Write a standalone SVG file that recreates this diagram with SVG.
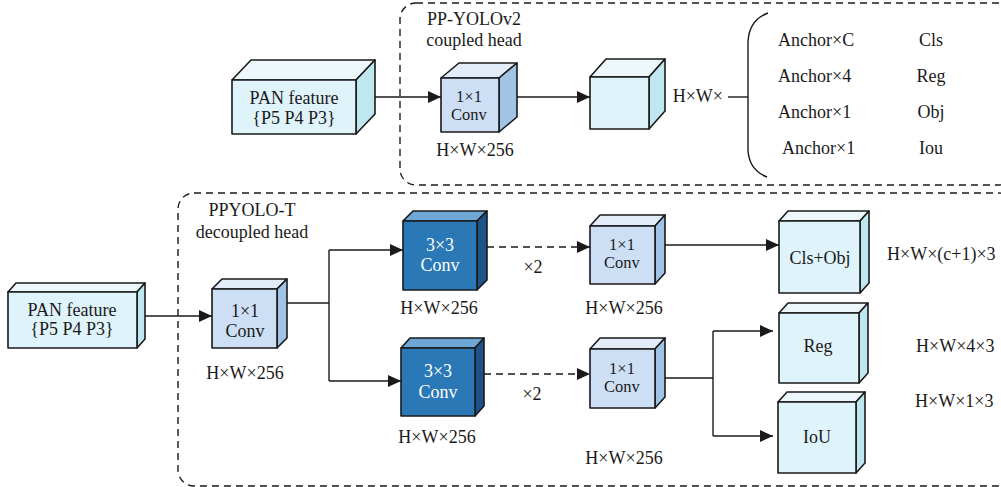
<svg xmlns="http://www.w3.org/2000/svg" width="1001" height="487" viewBox="0 0 1001 487" font-family="'Liberation Serif', 'DejaVu Serif', 'Times New Roman', Times, serif">
<style>
text{font-family:'Liberation Serif','DejaVu Serif','Times New Roman',Times,serif;font-size:18px;fill:#1a1a1a}
.c{text-anchor:middle}
.s{font-size:16.5px}
.w{fill:#ffffff}
.e{stroke:#1a1a1a;stroke-width:1.6;stroke-linejoin:round}
.lf{fill:#dff3fa}.lt{fill:#ecf8fc}.ls{fill:#bfe7f0}
.mf{fill:#cddff5}.mt{fill:#e3edfa}.ms{fill:#a0c3e6}
.df{fill:#2a78b5}.dt{fill:#6ea7d6}.ds{fill:#1c5489}
.grp{fill:none;stroke:#1a1a1a;stroke-width:1.4;stroke-dasharray:7 5}
.ln{fill:none;stroke:#1a1a1a;stroke-width:1.4}
.dl{fill:none;stroke:#1a1a1a;stroke-width:1.4;stroke-dasharray:7 5}
</style>
<defs>
<marker id="ah" markerUnits="userSpaceOnUse" markerWidth="14" markerHeight="12" refX="13" refY="6" orient="auto">
<path d="M0,0 L13,6 L0,12 Z" fill="#1a1a1a"/>
</marker>
</defs>

<g id="groups">
<rect class="grp" x="400" y="3" width="615" height="182" rx="16"/>
<rect class="grp" x="178" y="193" width="837" height="293" rx="16"/>
<text class="c" x="474" y="25">PP-YOLOv2</text>
<text class="c" x="474" y="46">coupled head</text>
<text class="c" x="252" y="216">PPYOLO-T</text>
<text class="c" x="252" y="238">decoupled head</text>
</g>

<g id="connectors">
<line class="ln" x1="356" y1="97" x2="441" y2="97" marker-end="url(#ah)"/>
<line class="ln" x1="517" y1="97" x2="590" y2="97" marker-end="url(#ah)"/>
<line class="ln" x1="728" y1="97" x2="748" y2="97"/>
<path class="ln" d="M768,13 Q749,20 748,42 L748,150 Q749,170 767,177"/>
<line class="ln" x1="137" y1="316" x2="212" y2="316" marker-end="url(#ah)"/>
<polyline class="ln" points="287,303 329,303"/>
<line class="ln" x1="329" y1="250" x2="329" y2="381"/>
<line class="ln" x1="329" y1="250" x2="403" y2="250" marker-end="url(#ah)"/>
<line class="ln" x1="329" y1="381" x2="401" y2="381" marker-end="url(#ah)"/>
<line class="dl" x1="487" y1="247" x2="590" y2="247" marker-end="url(#ah)"/>
<line class="dl" x1="484" y1="374" x2="590" y2="374" marker-end="url(#ah)"/>
<line class="ln" x1="665" y1="245" x2="779" y2="245" marker-end="url(#ah)"/>
<line class="ln" x1="665" y1="378" x2="713" y2="378"/>
<line class="ln" x1="713" y1="331" x2="713" y2="436"/>
<line class="ln" x1="713" y1="331" x2="773" y2="331" marker-end="url(#ah)"/>
<line class="ln" x1="713" y1="436" x2="773" y2="436" marker-end="url(#ah)"/>
<text class="c" x="533" y="273">×2</text>
<text class="c" x="532" y="400">×2</text>
</g>

<g id="pan-top">
<polygon class="e lt" points="232,80 251,60 375,60 356,80"/>
<polygon class="e ls" points="356,80 375,60 375,114 356,134"/>
<rect class="e lf" x="232" y="80" width="124" height="54"/>
<text class="c" x="294" y="104">PAN feature</text>
<text class="c" x="294" y="124">{P5 P4 P3}</text>
</g>

<g id="conv-top">
<polygon class="e mt" points="441,78 459,63 517,63 499,78"/>
<polygon class="e ms" points="499,78 517,63 517,117 499,132"/>
<rect class="e mf" x="441" y="78" width="58" height="54"/>
<text class="c s" x="469" y="102">1×1</text>
<text class="c s" x="469" y="120">Conv</text>
<text class="c" x="475" y="156">H×W×256</text>
</g>

<g id="out-top">
<polygon class="e lt" points="590,77 606,59 665,59 649,77"/>
<polygon class="e ls" points="649,77 665,59 665,111 649,129"/>
<rect class="e lf" x="590" y="77" width="59" height="52"/>
<text x="723" y="102" text-anchor="end">H×W×</text>
</g>

<g id="outputs-top">
<text x="778" y="46">Anchor×C</text>
<text x="778" y="82">Anchor×4</text>
<text x="778" y="118">Anchor×1</text>
<text x="782" y="154">Anchor×1</text>
<text class="c" x="931" y="46">Cls</text>
<text class="c" x="931" y="82">Reg</text>
<text class="c" x="931" y="118">Obj</text>
<text class="c" x="931" y="154">Iou</text>
</g>

<g id="pan-bottom">
<polygon class="e lt" points="8,292 16,283 145,283 137,292"/>
<polygon class="e ls" points="137,292 145,283 145,339 137,348"/>
<rect class="e lf" x="8" y="292" width="129" height="56"/>
<text class="c" x="72" y="316">PAN feature</text>
<text class="c" x="72" y="335">{P5 P4 P3}</text>
</g>

<g id="conv-bottom">
<polygon class="e mt" points="212,289 222,279 287,279 277,289"/>
<polygon class="e ms" points="277,289 287,279 287,338 277,348"/>
<rect class="e mf" x="212" y="289" width="65" height="59"/>
<text class="c" x="245" y="317">1×1</text>
<text class="c" x="245" y="337">Conv</text>
<text class="c" x="245" y="379">H×W×256</text>
</g>

<g id="conv3-top">
<polygon class="e dt" points="403,221 413,211 487,211 477,221"/>
<polygon class="e ds" points="477,221 487,211 487,280 477,290"/>
<rect class="e df" x="403" y="221" width="74" height="69"/>
<text class="c w" x="440" y="251">3×3</text>
<text class="c w" x="440" y="271">Conv</text>
<text class="c" x="439" y="314">H×W×256</text>
</g>

<g id="conv3-bottom">
<polygon class="e dt" points="401,348 410,338 484,338 475,348"/>
<polygon class="e ds" points="475,348 484,338 484,406 475,416"/>
<rect class="e df" x="401" y="348" width="74" height="68"/>
<text class="c w" x="438" y="377">3×3</text>
<text class="c w" x="438" y="398">Conv</text>
<text class="c" x="437" y="443">H×W×256</text>
</g>

<g id="conv1-top-right">
<polygon class="e mt" points="590,226 600,215 665,215 655,226"/>
<polygon class="e ms" points="655,226 665,215 665,273 655,284"/>
<rect class="e mf" x="590" y="226" width="65" height="58"/>
<text class="c s" x="622" y="250">1×1</text>
<text class="c s" x="622" y="268">Conv</text>
<text class="c" x="624" y="314">H×W×256</text>
</g>

<g id="conv1-bottom-right">
<polygon class="e mt" points="590,349 600,338 665,338 655,349"/>
<polygon class="e ms" points="655,349 665,338 665,397 655,408"/>
<rect class="e mf" x="590" y="349" width="65" height="59"/>
<text class="c s" x="622" y="374">1×1</text>
<text class="c s" x="622" y="392">Conv</text>
<text class="c" x="624" y="464">H×W×256</text>
</g>

<g id="cls-obj">
<polygon class="e lt" points="779,221 788,211 869,211 860,221"/>
<polygon class="e ls" points="860,221 869,211 869,283 860,293"/>
<rect class="e lf" x="779" y="221" width="81" height="72"/>
<text class="c" x="820" y="264">Cls+Obj</text>
<text x="887" y="260">H×W×(c+1)×3</text>
</g>

<g id="reg">
<polygon class="e lt" points="779,313 788,303 868,303 859,313"/>
<polygon class="e ls" points="859,313 868,303 868,373 859,383"/>
<rect class="e lf" x="779" y="313" width="80" height="70"/>
<text class="c" x="818" y="352">Reg</text>
<text x="916" y="352">H×W×4×3</text>
</g>

<g id="iou">
<polygon class="e lt" points="778,402 787,392 865,392 856,402"/>
<polygon class="e ls" points="856,402 865,392 865,463 856,473"/>
<rect class="e lf" x="778" y="402" width="78" height="71"/>
<text class="c" x="817" y="443">IoU</text>
<text x="915" y="407">H×W×1×3</text>
</g>
</svg>
